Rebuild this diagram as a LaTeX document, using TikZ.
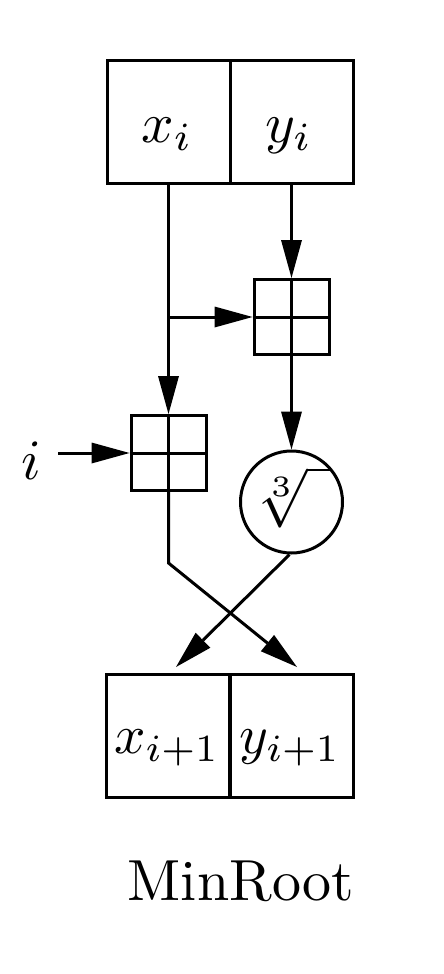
\documentclass[tikz,border=0pt]{standalone}
\usetikzlibrary{arrows.meta}
\begin{document}
\begin{tikzpicture}[x=1pt,y=-1pt,line width=3pt,
  arr/.style={-{Triangle[length=38pt,width=21pt,line width=0pt]}},
  cell/.style={draw,minimum width=123pt,minimum height=122pt,inner sep=0pt},
  adder/.style={draw,minimum size=75pt,inner sep=0pt},
  rootc/.style={draw,circle,minimum size=102pt,inner sep=0pt},
  lab/.style={anchor=base,inner sep=0pt}]
\useasboundingbox (0,0) rectangle (444,974);
% top register
\node[cell] (xi) at (168.5,122) {};
\node[cell] (yi) at (291.5,122) {};
\node[lab] (txi) at (167,142) {\scalebox{5.7}{$x_i$}};
\node[lab] (tyi) at (289,142) {\scalebox{5.7}{$y_i$}};
% adders
\node[adder] (addA) at (291.5,317) {};
\draw (addA.north) -- (addA.south) (addA.west) -- (addA.east);
\node[adder] (addB) at (168.5,453) {};
\draw (addB.north) -- (addB.south) (addB.west) -- (addB.east);
% cube root
\node[rootc] (cr) at (291.5,502) {};
\node (crt) at (293,497) {\scalebox{5.9}{$\sqrt[3]{\hspace{4pt}}$}};
% input i
\node[lab] (ilab) at (31,479) {\scalebox{5.7}{$i$}};
\coordinate (istart) at (58,453);
% bottom register
\node[cell,minimum height=123pt] (xo) at (168,735.5) {};
\node[cell,minimum height=123pt] (yo) at (292,735.5) {};
\node[lab] (txo) at (167,753) {\scalebox{5.5}{$x_{i+1}$}};
\node[lab] (tyo) at (290,753) {\scalebox{5.5}{$y_{i+1}$}};
% title
\node[lab] (title) at (241,900) {\scalebox{5.8}{MinRoot}};
% connectors
\coordinate (j) at (xi.south |- addA.west);
\coordinate (bend) at (168.5,563);
\coordinate (tipY) at (297,667);
\coordinate (tipX) at (176,667);
\draw[arr] (xi.south) -- (addB.north);
\draw[arr] (j) -- (addA.west);
\draw[arr] (yi.south) -- (addA.north);
\draw[arr] (addA.south) -- (cr.north);
\draw[arr] (istart) -- (addB.west);
\draw[arr] (addB.south) -- (bend) -- (tipY);
\draw[arr] ([xshift=-2pt]cr.south) -- (tipX);
\end{tikzpicture}
\end{document}
